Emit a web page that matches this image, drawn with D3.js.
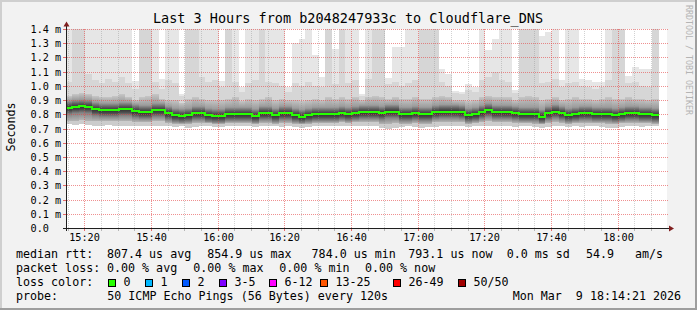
<!DOCTYPE html>
<html>
<head>
<meta charset="utf-8">
<script src="https://cdn.jsdelivr.net/npm/d3@7"></script>
<style>
body { margin: 0; background: #f2f2f2; }
svg { display: block; }
text { font-family: "DejaVu Sans Mono", monospace; fill: #000; }
</style>
</head>
<body>
<svg id="chart" width="697" height="310"></svg>
<script>
// median rtt per 120s sample (ms)
const median = [
  .845, .852, .855, .852, .835, .828, .828, .828, .835, .835,
  .821, .814, .814, .828, .828, .807, .793, .788, .793, .807,
  .807, .793, .788, .788, .800, .800, .800, .800, .788, .807,
  .807, .793, .807, .807, .793, .784, .793, .800, .800, .800,
  .800, .807, .800, .807, .814, .814, .814, .807, .819, .819,
  .800, .800, .807, .800, .800, .814, .819, .819, .819, .814,
  .793, .800, .814, .828, .814, .814, .814, .807, .800, .800,
  .800, .784, .807, .819, .807, .793, .800, .807, .807, .800,
  .800, .800, .793, .800, .807, .807, .800, .800, .793
];
// smoke: highest ping per sample (1.5 = above the chart top)
const smokeMax = [
  1.5, 1.5, 1.5, 1.5, 1.5, 1.5, 1.5, 1.5, 1.5, 1.5,
  1.035, 1.5, 1.5, 1.5, 1.047, 1.5, 1.5, .943, 1.5, 1.5,
  1.5, 1.5, 1.5, 1.035, 1.5, 1.5, .99, 1.5, 1.5, 1.5,
  1.5, 1.5, 1.5, .99, 1.30, 1.33, 1.5, 1.22, 1.06, 1.5,
  1.26, 1.5, 1.5, 1.5, .94, 1.5, 1.5, 1.5, 1.056, 1.27,
  1.27, 1.5, 1.5, 1.5, 1.5, 1.5, 1.12, 1.085, .967, .955,
  1.01, .99, 1.5, 1.25, 1.33, 1.5, 1.5, .97, 1.5, 1.5,
  1.5, 1.35, 1.38, 1.5, 1.04, 1.5, 1.5, 1.05, 1.04, 1.03,
  1.03, 1.5, 1.5, 1.5, 1.07, 1.13, 1.12, 1.12, 1.5
];
// smoke: upper outlier band
const smokeHigh = [
  1.03, 1.5, 1.5, 1.08, 1.04, 1.02, 1.05, 1.03, 1.06, 1.02,
  .98, 1.5, 1.5, 1.03, .98, 1.04, 1.02, .93, 1.5, 1.5,
  1.06, 1.03, 1.04, .99, 1.5, 1.03, .96, 1.02, 1.04, 1.5,
  1.03, 1.02, 1.0, .96, 1.02, 1.0, 1.03, 1.0, .99, 1.5,
  1.01, 1.5, 1.02, 1.04, .93, 1.05, 1.5, 1.5, 1.01, 1.03,
  1.0, 1.02, 1.04, 1.5, 1.5, 1.5, 1.03, 1.0, .95, .94,
  .97, .96, 1.04, 1.06, 1.1, 1.04, 1.03, .95, 1.5, 1.5,
  1.5, 1.02, 1.03, 1.05, .99, 1.02, 1.03, 1.0, .99, .98,
  .99, 1.04, 1.5, 1.5, 1.02, 1.03, 1.0, .99, 1.5
];
// smoke: top of the dense core
const smokeUpper = [
  .93, .94, .95, .94, .93, .92, .92, .93, .94, .92,
  .90, .92, .93, .94, .91, .90, .90, .88, .91, .92,
  .91, .90, .90, .90, .91, .92, .89, .91, .90, .91,
  .92, .90, .91, .90, .90, .89, .90, .91, .90, .92,
  .91, .92, .91, .92, .90, .92, .93, .92, .91, .92,
  .91, .91, .92, .91, .91, .92, .93, .92, .90, .90,
  .89, .90, .92, .93, .92, .92, .92, .90, .92, .93,
  .92, .90, .91, .92, .90, .91, .92, .91, .91, .90,
  .91, .92, .91, .91, .92, .91, .91, .90, .91
];
// smoke: bottom of the dense core
const smokeLower = [
  .755, .755, .76, .755, .75, .75, .75, .75, .75, .75,
  .745, .745, .745, .75, .75, .74, .735, .735, .735, .74,
  .74, .74, .735, .735, .74, .74, .74, .74, .735, .74,
  .74, .735, .74, .74, .735, .73, .735, .74, .74, .74,
  .74, .745, .74, .745, .745, .745, .745, .735, .735, .74,
  .735, .735, .74, .735, .735, .745, .745, .745, .745, .745,
  .735, .74, .745, .75, .745, .745, .745, .74, .74, .74,
  .735, .73, .74, .745, .74, .735, .74, .74, .74, .74,
  .74, .735, .735, .74, .74, .74, .74, .74, .735
];
// smoke: lowest ping per sample
const smokeMin = [
  .73, .725, .73, .725, .72, .72, .725, .72, .72, .72,
  .72, .715, .715, .72, .72, .715, .71, .715, .705, .71,
  .715, .715, .71, .71, .715, .715, .715, .715, .71, .715,
  .715, .715, .71, .715, .71, .705, .71, .715, .715, .72,
  .715, .715, .715, .72, .715, .72, .715, .705, .70, .705,
  .71, .715, .71, .705, .71, .71, .715, .72, .715, .715,
  .71, .715, .715, .72, .72, .715, .715, .71, .715, .715,
  .71, .705, .71, .715, .715, .71, .715, .71, .715, .715,
  .71, .705, .705, .71, .715, .715, .71, .715, .715
];

const rttStats = [807.4, 854.9, 784.0, 793.1];
const rttSd = 0.0;
const rttAms = 54.9;
const lossStats = [0.00, 0.00, 0.00, 0.00];
const lossLabels = ["0", "1", "2", "3-5", "6-12", "13-25", "26-49", "50/50"];
const lossColors = ["#26ff00", "#00b8ff", "#0059ff", "#7e00ff", "#ff00ff", "#ff5500", "#ff0000", "#a10000"];

const firstSample = new Date(2026, 2, 9, 15, 14, 18);
const stepSec = 120;

const svg = d3.select("#chart");
const W = 697, H = 310;
const pLeft = 67, pRight = 667, pTop = 29, pBottom = 228;

const x = d3.scaleTime()
    .domain([new Date(2026, 2, 9, 15, 14, 48), new Date(2026, 2, 9, 18, 14, 48)])
    .range([pLeft, pRight]);
const y = d3.scaleLinear().domain([0, 1.4]).range([pBottom, pTop]);

// frame
svg.append("rect").attr("width", W).attr("height", H).attr("fill", "#f2f2f2");
svg.append("rect").attr("x", 0).attr("y", 0).attr("width", W).attr("height", 2).attr("fill", "#cfcfcf");
svg.append("rect").attr("x", 0).attr("y", 0).attr("width", 2).attr("height", H).attr("fill", "#cfcfcf");
svg.append("rect").attr("x", 0).attr("y", H - 2).attr("width", W).attr("height", 2).attr("fill", "#9e9e9e");
svg.append("rect").attr("x", W - 2).attr("y", 0).attr("width", 2).attr("height", H).attr("fill", "#9e9e9e");

svg.append("rect")
    .attr("x", pLeft).attr("y", pTop)
    .attr("width", pRight - pLeft).attr("height", pBottom - pTop)
    .attr("fill", "#fff");

const defs = svg.append("defs");
defs.append("clipPath").attr("id", "plot")
    .append("rect").attr("x", pLeft).attr("y", pTop)
    .attr("width", pRight - pLeft).attr("height", pBottom - pTop);

const cols = median.map((m, i) => {
    const t0 = new Date(+firstSample + i * stepSec * 1000);
    const t1 = new Date(+t0 + stepSec * 1000);
    return {
        i: i,
        x0: Math.round(x(t0)), x1: Math.round(x(t1)),
        med: m, min: smokeMin[i], lower: smokeLower[i],
        upper: smokeUpper[i], high: smokeHigh[i], max: smokeMax[i]
    };
});

const smoke = svg.append("g").attr("clip-path", "url(#plot)").attr("shape-rendering", "crispEdges");

function band(lo, hi, fill) {
    smoke.append("g").selectAll("rect")
        .data(cols)
        .join("rect")
        .attr("x", d => d.x0)
        .attr("width", d => d.x1 - d.x0)
        .attr("y", d => Math.round(y(hi(d))))
        .attr("height", d => Math.round(y(lo(d))) - Math.round(y(hi(d))))
        .attr("fill", fill);
}
band(d => d.min, d => d.max, "#e6e6e6");
band(d => d.lower, d => d.high, "#d6d6d6");
band(d => d.min, d => d.lower, "#cccccc");

// dense core: per-sample vertical shading around the median
cols.forEach(d => {
    const y1 = Math.round(y(d.upper)), y2 = Math.round(y(d.lower));
    const off = v => Math.max(0, Math.min(1, (y(v) - y1) / (y2 - y1)));
    const g = defs.append("linearGradient").attr("id", "core" + d.i)
        .attr("gradientUnits", "userSpaceOnUse")
        .attr("x1", 0).attr("x2", 0).attr("y1", y1).attr("y2", y2);
    [[0, "#c6c6c6"], [off(d.med + 0.05), "#9c9c9c"], [off(d.med + 0.022), "#5c5c5c"],
     [off(d.med), "#323232"], [off(d.med - 0.02), "#4a4a4a"], [off(d.med - 0.045), "#858585"],
     [1, "#b4b4b4"]].forEach(s => g.append("stop").attr("offset", s[0]).attr("stop-color", s[1]));
});
smoke.append("g").selectAll("rect")
    .data(cols)
    .join("rect")
    .attr("x", d => d.x0)
    .attr("width", d => d.x1 - d.x0)
    .attr("y", d => Math.round(y(d.upper)))
    .attr("height", d => Math.round(y(d.lower)) - Math.round(y(d.upper)))
    .attr("fill", d => "url(#core" + d.i + ")");

// grid
const grid = svg.append("g").attr("shape-rendering", "crispEdges");
const minorTimes = d3.timeMinute.every(5).range(x.domain()[0], x.domain()[1]);
const isMajor = t => t.getMinutes() % 20 === 0;
grid.selectAll(".vminor")
    .data(minorTimes.filter(t => !isMajor(t)))
    .join("line")
    .attr("x1", d => Math.round(x(d)) + 0.5).attr("x2", d => Math.round(x(d)) + 0.5)
    .attr("y1", pTop).attr("y2", pBottom)
    .attr("stroke", "rgba(143,143,143,0.4)")
    .attr("stroke-dasharray", "1,1");
const yTicks = y.ticks(14);
grid.selectAll(".hmajor")
    .data(yTicks.filter(v => v > 0))
    .join("line")
    .attr("x1", pLeft).attr("x2", pRight + 1)
    .attr("y1", d => Math.round(y(d)) + 0.5).attr("y2", d => Math.round(y(d)) + 0.5)
    .attr("stroke", "rgba(228,70,70,0.6)")
    .attr("stroke-dasharray", "1,1");
const majorTimes = minorTimes.filter(isMajor);
grid.selectAll(".vmajor")
    .data(majorTimes)
    .join("line")
    .attr("x1", d => Math.round(x(d)) + 0.5).attr("x2", d => Math.round(x(d)) + 0.5)
    .attr("y1", pTop).attr("y2", pBottom)
    .attr("stroke", "rgba(228,70,70,0.6)")
    .attr("stroke-dasharray", "1,1");

// median line
const pts = cols.map(d => [d.x0, Math.round(y(d.med))]);
pts.push([cols[cols.length - 1].x1, Math.round(y(median[median.length - 1]))]);
svg.append("path")
    .attr("clip-path", "url(#plot)")
    .attr("d", d3.line().curve(d3.curveStepAfter)(pts))
    .attr("fill", "none")
    .attr("stroke", lossColors[0])
    .attr("stroke-width", 2);

// axes
const axis = svg.append("g").attr("shape-rendering", "crispEdges");
axis.selectAll(".xt")
    .data(minorTimes)
    .join("line")
    .attr("x1", d => Math.round(x(d)) + 0.5).attr("x2", d => Math.round(x(d)) + 0.5)
    .attr("y1", pBottom + 1).attr("y2", pBottom + 3)
    .attr("stroke", d => isMajor(d) ? "rgba(228,70,70,0.8)" : "rgba(143,143,143,0.6)");
axis.selectAll(".yt")
    .data(yTicks)
    .join("line")
    .attr("x1", pLeft - 4).attr("x2", pLeft)
    .attr("y1", d => Math.round(y(d)) + 0.5).attr("y2", d => Math.round(y(d)) + 0.5)
    .attr("stroke", "rgba(228,70,70,0.8)");
axis.append("line")
    .attr("x1", pLeft - 4).attr("x2", pRight + 3)
    .attr("y1", pBottom + 0.5).attr("y2", pBottom + 0.5)
    .attr("stroke", "#1f1f1f");
axis.append("line")
    .attr("x1", pLeft - 0.5).attr("x2", pLeft - 0.5)
    .attr("y1", pBottom + 3).attr("y2", pTop - 4)
    .attr("stroke", "#1f1f1f");
svg.append("path")
    .attr("d", `M${pLeft - 0.5},21.5 L${pLeft - 3.5},26.5 L${pLeft + 2.5},26.5 Z`)
    .attr("fill", "#801f1f");
svg.append("path")
    .attr("d", `M674,${pBottom + 0.5} L669,${pBottom - 2.5} L669,${pBottom + 3.5} Z`)
    .attr("fill", "#801f1f");

// axis labels
svg.append("g").selectAll("text")
    .data(yTicks)
    .join("text")
    .attr("x", 30.5)
    .attr("y", d => Math.round(y(d)) + 4)
    .style("font-size", "10.2px")
    .text(d => d === 0 ? "0.0" : d3.format(".1f")(d) + " m");
svg.append("g").selectAll("text")
    .data(majorTimes)
    .join("text")
    .attr("x", d => Math.round(x(d)) + 0.5)
    .attr("y", 241)
    .attr("text-anchor", "middle")
    .style("font-size", "10.2px")
    .text(d => d3.timeFormat("%H:%M")(d));

svg.append("text")
    .attr("x", 348).attr("y", 23)
    .attr("text-anchor", "middle")
    .style("font-size", "13.5px")
    .text("Last 3 Hours from b2048247933c to Cloudflare_DNS");
svg.append("text")
    .attr("transform", "translate(15,127) rotate(-90)")
    .attr("text-anchor", "middle")
    .style("font-size", "11.66px")
    .text("Seconds");
svg.append("text")
    .attr("transform", "translate(686,5) rotate(90)")
    .style("font-size", "8.3px")
    .style("fill", "#b4b4b4")
    .text("RRDTOOL / TOBI OETIKER");

// legend
const fs = "11.66px";
function legendText(xp, yp, s) {
    svg.append("text")
        .attr("x", xp).attr("y", yp)
        .attr("xml:space", "preserve")
        .style("white-space", "pre")
        .style("font-size", fs)
        .text(s);
}
const f1 = d3.format(".1f"), f2 = d3.format(".2f");
legendText(16, 258, "median rtt:");
[[107, f1(rttStats[0]) + " us avg"], [207.3, f1(rttStats[1]) + " us max"],
 [311.6, f1(rttStats[2]) + " us min"], [408.3, f1(rttStats[3]) + " us now"],
 [506.7, f1(rttSd) + " ms sd"], [586, f1(rttAms)], [635, "am/s"]]
    .forEach(p => legendText(p[0], 258, p[1]));
legendText(16, 272, "packet loss:");
const lossNames = ["avg", "max", "min", "now"];
[107, 193.3, 279.3, 365].forEach((xp, i) => legendText(xp, 272, f2(lossStats[i]) + " % " + lossNames[i]));
legendText(16, 286, "loss color:");
const lossBoxX = [108.5, 145.5, 182.5, 219.5, 269.5, 320.5, 393.5, 458.5];
lossLabels.forEach((lab, i) => {
    svg.append("rect")
        .attr("x", lossBoxX[i]).attr("y", 279.5)
        .attr("width", 7).attr("height", 7)
        .attr("fill", lossColors[i])
        .attr("stroke", "#000")
        .attr("shape-rendering", "crispEdges");
    legendText(lossBoxX[i] + 15, 286, lab);
});
legendText(16, 300, "probe:");
legendText(107.3, 300, "50 ICMP Echo Pings (56 Bytes) every 120s");
legendText(512.7, 300, "Mon Mar  9 18:14:21 2026");
</script>
</body>
</html>
